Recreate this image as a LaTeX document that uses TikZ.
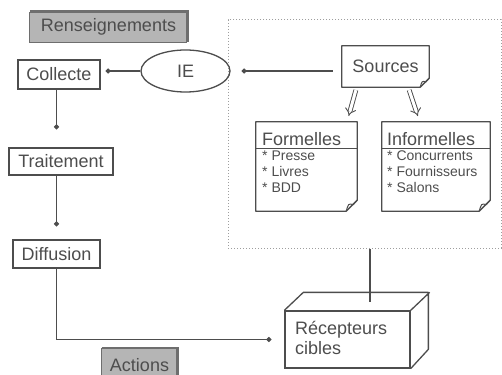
\documentclass[tikz,border=0pt]{standalone}
\usepackage{fontspec}
\setmainfont{Liberation Sans}
\usetikzlibrary{arrows.meta,shapes.geometric,calc}
\definecolor{ink}{HTML}{4D4D4D}
\definecolor{frame}{HTML}{9E9E9E}
\definecolor{tagfill}{HTML}{B5B5B5}
\definecolor{tagedge}{HTML}{6E6E6E}

% outline of a note sheet with a curled bottom-right corner
\newcommand\notebox[2]{%
  \draw[ink, line width=1.3pt, line join=round]
    (#1.north west) -- (#1.north east) -- ($(#1.south east)+(0,-#2)$)
    -- ($(#1.south east)+(-#2,0)$) -- (#1.south west) -- cycle;
  \draw[ink, line width=1pt]
    ($(#1.south east)+(-#2,0)$) .. controls ($(#1.south east)+(-0.8*#2,-0.7*#2)$)
    .. ($(#1.south east)+(-0.35*#2,-0.6*#2)$) -- ($(#1.south east)+(0,-#2)$);
}

\begin{document}
\begin{tikzpicture}[x=1pt, y=-1pt,
  every node/.style={font=\fontsize{18}{21}\selectfont, text=ink},
  stagebox/.style={draw=ink, line width=1.3pt, inner sep=0pt},
  tag/.style={fill=tagfill, inner sep=0pt},
  flow/.style={draw=ink, line width=1.1pt, -{Circle[length=5pt]}},
  hollow/.style={draw=ink, line width=0.9pt, double=white, double distance=3pt, -{Implies}},
  items/.style={font=\fontsize{14}{16}\selectfont, align=left, anchor=north west, inner sep=0pt}]
\useasboundingbox (0,0) rectangle (502,374);

% section tags
\node[tag, minimum width=157pt, minimum height=30pt] (rens) at (108.5,27) {Renseignements};
\draw[tagedge, line width=0.7pt] (rens.north west) -- (rens.south west) -- (rens.south east);
\draw[tagedge, line width=2.6pt] (rens.north west) -- (rens.north east) -- (rens.south east);
\node[tag, minimum width=75pt, minimum height=34pt] (act) at (139.5,365) {Actions};
\draw[tagedge, line width=0.7pt] (act.north west) -- (act.south west);
\draw[tagedge, line width=2.6pt] (act.north west) -- (act.north east) -- (act.south east);

% information sources area
\node[draw=frame, dotted, line width=1pt, minimum width=273pt, minimum height=228pt, inner sep=0pt] (zone) at (364.5,134) {};

% process chain
\node[stagebox, minimum width=82pt, minimum height=29pt] (col) at (59,74.5) {Collecte};
\node[stagebox, minimum width=104pt, minimum height=27pt] (trt) at (61,161.5) {Traitement};
\node[stagebox, minimum width=87pt, minimum height=28pt] (dif) at (56.5,254) {Diffusion};
\node[ellipse, stagebox, minimum width=89pt, minimum height=42pt] (ie) at (185.5,71) {IE};

% sources
\node[minimum width=87pt, minimum height=41pt, inner sep=0pt] (src) at (385.5,66.5) {Sources};
\notebox{src}{9}

\node[minimum width=101pt, minimum height=89pt, inner sep=0pt] (fo) at (306.5,166.5) {};
\notebox{fo}{11}
\node[anchor=base west, inner sep=0pt] (fotitle) at (262,146) {Formelles};
\draw[ink, line width=1.1pt] ($(fo.north west)+(0,27)$) -- ($(fo.north east)+(0,27)$);
\node[items] (foitems) at (262,151) {* Presse\\* Livres\\* BDD};

\node[minimum width=108pt, minimum height=89pt, inner sep=0pt] (inf) at (436,166.5) {};
\notebox{inf}{11}
\node[anchor=base west, inner sep=0pt] (inftitle) at (387,146) {Informelles};
\draw[ink, line width=1.1pt] ($(inf.north west)+(0,27)$) -- ($(inf.north east)+(0,27)$);
\node[items] (infitems) at (387,151) {* Concurrents\\* Fournisseurs\\* Salons};

% target receivers (box in perspective)
\node[stagebox, minimum width=125pt, minimum height=57pt] (cube) at (347.5,339.5) {};
\draw[ink, line width=1.3pt, line join=round]
  (cube.north west) -- ++(19,-18) -- ++(125,0) -- ++(0,57) -- (cube.south east)
  (cube.north east) -- ++(19,-18);
\node[anchor=north west, inner sep=0pt, align=left, font=\fontsize{18}{20}\selectfont] (cubetxt) at (295,321) {Récepteurs\\cibles};
\coordinate (cubetop) at (370,302);

% connectors
\draw[flow, shorten >=5pt] (ie.west) -- (ie.west -| col.east);
\draw[flow, shorten <=9pt, shorten >=11pt] (src.west |- ie.east) -- (ie.east);
\draw[flow, shorten >=18pt] (col.south -| dif.north) -- (trt.north -| dif.north);
\draw[flow, shorten >=13pt] (trt.south -| dif.north) -- (dif.north);
\draw[flow, shorten >=13pt] (dif.south) |- (cube.west);
\draw[ink, line width=1.1pt] (cubetop |- zone.south) -- (cubetop);
\draw[hollow, shorten <=3pt, shorten >=6pt]
  ($(src.south west)!0.17!(src.south east)$) -- ($(fo.north west)!0.9!(fo.north east)$);
\draw[hollow, shorten <=3pt, shorten >=6pt]
  ($(src.south west)!0.76!(src.south east)$) -- ($(inf.north west)!0.35!(inf.north east)$);
\end{tikzpicture}
\end{document}
